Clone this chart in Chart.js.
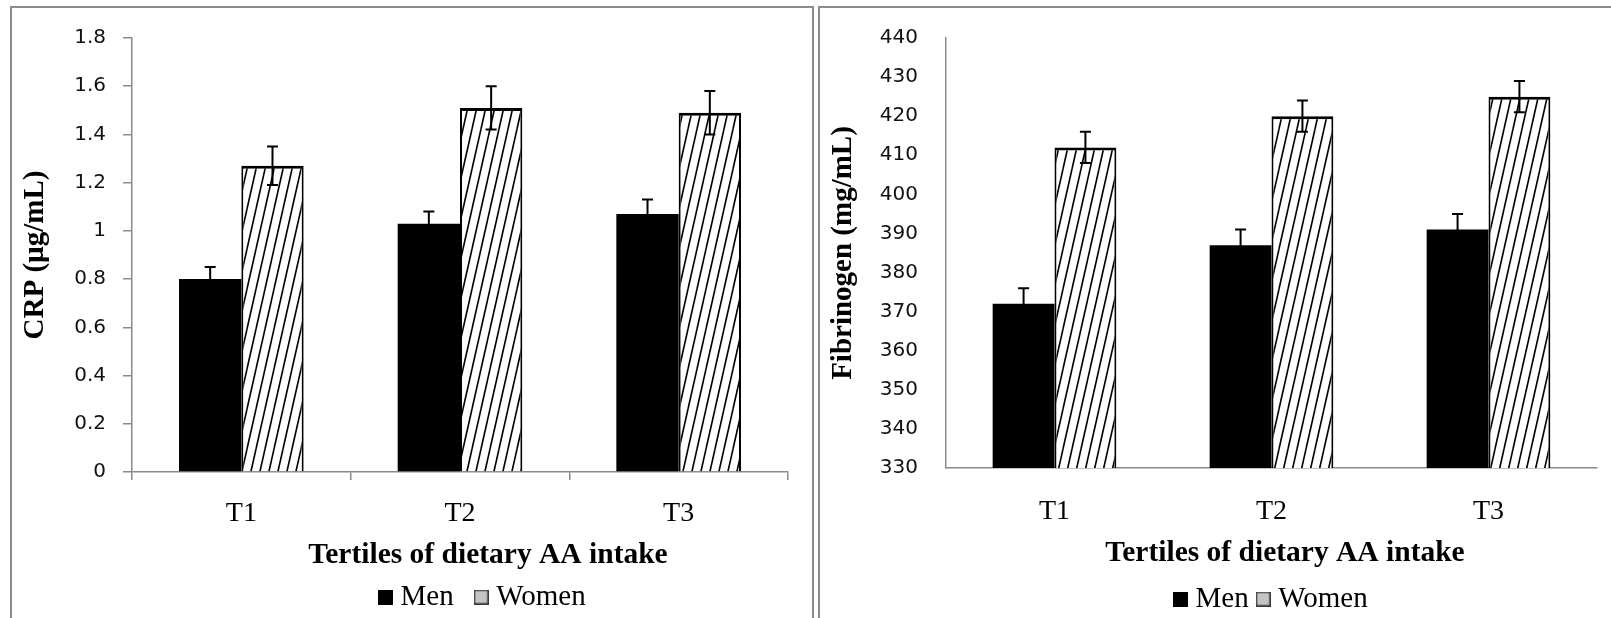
<!DOCTYPE html>
<html><head><meta charset="utf-8">
<script src="https://cdn.jsdelivr.net/npm/chart.js@4.4.1/dist/chart.umd.min.js"></script>
<style>
html,body{margin:0;padding:0;background:#fff;overflow:hidden;width:1611px;height:618px;}
.panel{position:absolute;border:2px solid #8c8c8c;box-sizing:border-box;}
#p1{left:10px;top:6px;width:804px;height:700px;}
#p2{left:818px;top:6px;width:900px;height:700px;}
canvas{position:absolute;}
#c1{left:13px;top:9px;}
#c2{left:820px;top:9px;}
</style></head><body>
<div class="panel" id="p1"></div><div class="panel" id="p2"></div>
<canvas id="c1" width="799" height="609"></canvas>
<canvas id="c2" width="791" height="609"></canvas>
<script>
// ---- data ----
const categories = ['T1', 'T2', 'T3'];
const seriesNames = ['Men', 'Women'];
const xTitle = 'Tertiles of dietary AA intake';

const crpTitle = 'CRP (µg/mL)';
const crpMen = [0.80, 1.03, 1.07];
const crpMenErr = [0.05, 0.05, 0.06];
const crpWomen = [1.27, 1.51, 1.49];
const crpWomenErr = [0.08, 0.09, 0.09];
const crpTicks = ['0', '0.2', '0.4', '0.6', '0.8', '1', '1.2', '1.4', '1.6', '1.8'];

const fibTitle = 'Fibrinogen (mg/mL)';
const fibMen = [372, 387, 391];
const fibMenErr = [4, 4, 4];
const fibWomen = [412, 420, 425];
const fibWomenErr = [4, 4, 4];
const fibTicks = ['330', '340', '350', '360', '370', '380', '390', '400', '410', '420', '430', '440'];

// ---- helpers ----
const SERIF = 'Liberation Serif';
const SANS = 'DejaVu Sans';

function makeHatch(ctx) {
  const W = 9, H = 40;
  const c = document.createElement('canvas'); c.width = W; c.height = H;
  const g = c.getContext('2d');
  g.fillStyle = '#fff'; g.fillRect(0, 0, W, H);
  g.strokeStyle = '#000'; g.lineWidth = 1.6;
  for (const dx of [-W, 0, W]) { g.beginPath(); g.moveTo(dx, H); g.lineTo(dx + W, 0); g.stroke(); }
  return ctx.createPattern(c, 'repeat');
}
function makeIcon(kind) {
  const c = document.createElement('canvas'); c.width = 15; c.height = 15;
  const g = c.getContext('2d');
  if (kind === 0) { g.fillStyle = '#000'; g.fillRect(0, 0, 15, 15); }
  else {
    g.fillStyle = '#cfcfcf'; g.fillRect(0, 0, 15, 15);
    g.strokeStyle = '#b0b0b0'; g.lineWidth = 1;
    for (let k = -15; k < 30; k += 3) { g.beginPath(); g.moveTo(k, 15); g.lineTo(k + 15, 0); g.stroke(); }
    g.strokeStyle = '#3a3a3a'; g.lineWidth = 1.5; g.strokeRect(0.75, 0.75, 13.5, 13.5);
  }
  return c;
}
const legendIcons = [makeIcon(0), makeIcon(1)];

const errorBarPlugin = {
  id: 'errorBars',
  afterDatasetsDraw(chart, args, o) {
    const ctx = chart.ctx, ys = chart.scales.y;
    ctx.save();
    ctx.strokeStyle = '#000'; ctx.lineWidth = o.lineWidth || 2;
    chart.data.datasets.forEach((ds, di) => {
      const meta = chart.getDatasetMeta(di);
      meta.data.forEach((bar, i) => {
        const v = ds.data[i], e = ds.errors[i];
        const yt = ys.getPixelForValue(v + e), yb = ys.getPixelForValue(v - e);
        const x = bar.x, hw = (o.capWidth || 11) / 2;
        ctx.beginPath();
        ctx.moveTo(x, yt); ctx.lineTo(x, yb);
        ctx.moveTo(x - hw, yt); ctx.lineTo(x + hw, yt);
        ctx.moveTo(x - hw, yb); ctx.lineTo(x + hw, yb);
        ctx.stroke();
      });
    });
    ctx.restore();
  }
};

const placerPlugin = {
  id: 'placer',
  afterLayout(chart, args, o) {
    const t = chart.titleBlock;
    if (t) {
      const h = t.height, w = 700;
      t.left = o.titleX - w / 2; t.right = o.titleX + w / 2; t.width = w;
      t.top = o.titleY - h / 2; t.bottom = t.top + h;
    }
    const l = chart.legend;
    if (l) {
      const pad = l.options.labels.padding;
      const h = l.height;
      l.left = o.legendX - pad; l.right = chart.width; l.width = l.right - l.left;
      l.top = o.legendY - pad - 14.5; l.bottom = l.top + h;
    }
  }
};

function buildChart(id, cfg) {
  const canvas = document.getElementById(id);
  const ctx = canvas.getContext('2d');
  const hatch = makeHatch(ctx);
  return new Chart(ctx, {
    type: 'bar',
    data: {
      labels: categories,
      datasets: [
        { label: seriesNames[0], data: cfg.men, errors: cfg.menErr, backgroundColor: '#000', borderWidth: 0,
          categoryPercentage: 0.57, barPercentage: 1 },
        { label: seriesNames[1], data: cfg.women, errors: cfg.womenErr, backgroundColor: hatch,
          borderColor: '#000', borderWidth: { top: 3, left: 2, right: 2, bottom: 0 },
          categoryPercentage: 0.57, barPercentage: 1 }
      ]
    },
    plugins: [errorBarPlugin, placerPlugin],
    options: {
      responsive: false, animation: false, devicePixelRatio: 1, events: [],
      layout: { padding: { top: 29, right: cfg.padRight, bottom: 0, left: 0 } },
      scales: {
        x: {
          grid: { display: cfg.xTicks, drawOnChartArea: false, drawTicks: cfg.xTicks, tickLength: 8, color: '#8a8a8a', lineWidth: 1.5 },
          border: { display: true, color: '#8a8a8a', width: 1.5 },
          ticks: { font: { family: SERIF, size: 28 }, color: '#000', padding: cfg.xPad },
          afterFit: s => { s.height = cfg.xHeight; }
        },
        y: {
          min: cfg.min, max: cfg.max,
          grid: { display: true, drawOnChartArea: false, drawTicks: true, tickLength: cfg.yTickLen,
                  color: cfg.yTickColor, lineWidth: 1.5 },
          border: { display: true, color: '#8a8a8a', width: 1.5 },
          ticks: { stepSize: cfg.step, font: { family: SANS, size: 20 }, color: '#111', padding: cfg.yPad,
                   callback: (v, i) => cfg.tickLabels[i] },
          title: { display: true, text: cfg.yTitle, color: '#000',
                   font: { family: SERIF, size: 29, weight: 'bold' }, padding: { top: cfg.yTitlePad, bottom: 0 } },
          afterFit: s => { s.width = cfg.yWidth; }
        }
      },
      plugins: {
        tooltip: { enabled: false },
        title: { display: true, text: xTitle, position: 'bottom', weight: 500, color: '#000',
                 font: { family: SERIF, size: 29.5, weight: 'bold', lineHeight: 1 }, padding: { top: 0, bottom: 0 } },
        legend: {
          display: true, position: 'bottom', align: 'start',
          labels: {
            usePointStyle: true, boxWidth: 1, boxHeight: 15, padding: cfg.legendPad, color: '#000',
            font: { family: SERIF, size: 29 },
            generateLabels: ch => ch.data.datasets.map((ds, i) => ({
              text: ds.label, pointStyle: legendIcons[i], fillStyle: '#000', strokeStyle: '#000',
              lineWidth: 0, fontColor: '#000', hidden: false, datasetIndex: i }))
          }
        },
        errorBars: { capWidth: 11, lineWidth: 2 },
        placer: cfg.place
      }
    }
  });
}

buildChart('c1', {
  men: crpMen, menErr: crpMenErr, women: crpWomen, womenErr: crpWomenErr,
  min: 0, max: 1.8, step: 0.2, tickLabels: crpTicks, yTitle: crpTitle,
  padRight: 24, xTicks: true, yTickLen: 9, yTickColor: '#8a8a8a', xPad: 16.6, yPad: 17, yWidth: 119, yTitlePad: 5,
  xHeight: 50.5, legendPad: 27,
  place: { titleX: 475, titleY: 546, legendX: 372, legendY: 588 }
});
buildChart('c2', {
  men: fibMen, menErr: fibMenErr, women: fibWomen, womenErr: fibWomenErr,
  min: 330, max: 440, step: 10, tickLabels: fibTicks, yTitle: fibTitle,
  padRight: 14, xTicks: false, yTickLen: 12, yTickColor: 'rgba(0,0,0,0)', xPad: 26.6, yPad: 16, yWidth: 126, yTitlePad: 6.3,
  xHeight: 67.5, legendPad: 14,
  place: { titleX: 465, titleY: 544, legendX: 360, legendY: 590 }
});
</script></body></html>
